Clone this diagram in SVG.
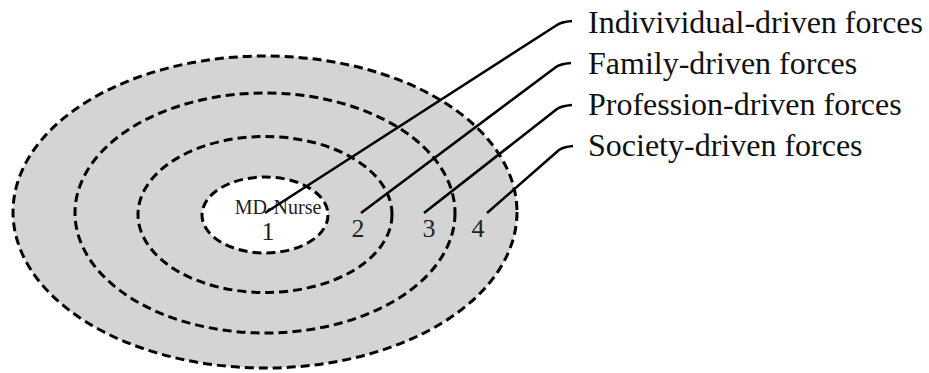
<svg xmlns="http://www.w3.org/2000/svg" width="929" height="373" viewBox="0 0 929 373">
  <style>
    .ring { fill: #d4d4d4; stroke: #000; stroke-width: 3; stroke-dasharray: 9 5; }
    .core { fill: #fff; }
    .num { font-family: "Liberation Serif", "Times New Roman", serif; font-size: 26px; fill: #222; text-anchor: middle; }
    .core-label { font-family: "Liberation Serif", "Times New Roman", serif; font-size: 20px; fill: #222; text-anchor: middle; }
    .force { font-family: "Liberation Serif", "Times New Roman", serif; font-size: 32px; fill: #111; }
    .leader { fill: none; stroke: #000; stroke-width: 2.6; stroke-linecap: butt; stroke-linejoin: round; }
  </style>
  <rect width="929" height="373" fill="#fff"/>

  <!-- concentric rings, outermost first -->
  <g id="ring-4">
    <ellipse class="ring" cx="265" cy="212" rx="252" ry="156"/>
    <text class="num" x="478" y="237">4</text>
  </g>
  <g id="ring-3">
    <ellipse class="ring" cx="265" cy="213" rx="190" ry="120"/>
    <text class="num" x="429" y="237">3</text>
  </g>
  <g id="ring-2">
    <ellipse class="ring" cx="265" cy="214.5" rx="127" ry="78"/>
    <text class="num" x="358" y="237">2</text>
  </g>
  <g id="ring-1">
    <ellipse class="ring core" cx="265" cy="215" rx="63" ry="38"/>
    <text class="core-label" x="278" y="214">MD-Nurse</text>
    <text class="num" x="268" y="240">1</text>
  </g>

  <!-- force labels -->
  <g id="label-individual"><text class="force" x="588" y="33">Indivividual-driven forces</text></g>
  <g id="label-family"><text class="force" x="588" y="74">Family-driven forces</text></g>
  <g id="label-profession"><text class="force" x="588" y="115">Profession-driven forces</text></g>
  <g id="label-society"><text class="force" x="588" y="156">Society-driven forces</text></g>

  <!-- leader lines from each ring to its label -->
  <g id="connectors">
    <path class="leader" d="M265,213 L557,25 Q561,22 572,21"/>
    <path class="leader" d="M361,213 L556,67 Q560,64 571,63"/>
    <path class="leader" d="M424,213 L557,109 Q561,106 572,105"/>
    <path class="leader" d="M487,213 L559,150 Q563,147 573,146"/>
  </g>
</svg>
